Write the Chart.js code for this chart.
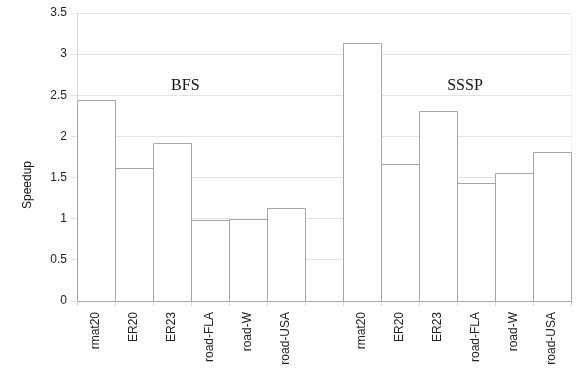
<!DOCTYPE html>
<html><head><meta charset="utf-8">
<script src="https://cdn.jsdelivr.net/npm/chart.js@4/dist/chart.umd.min.js"></script>
<style>html,body{margin:0;padding:0;background:#fff}</style>
</head><body>
<canvas id="c" width="581" height="370"></canvas>
<script>
const graphs = ['rmat20','ER20','ER23','road-FLA','road-W','road-USA'];
const groupNames = ['BFS','SSSP'];
const bfsSpeedup = [2.44, 1.62, 1.92, 0.99, 1.00, 1.13];
const ssspSpeedup = [3.13, 1.66, 2.31, 1.43, 1.56, 1.81];
const yAxisTitle = 'Speedup';
const yMin = 0, yMax = 3.5, yStep = 0.5;

// one empty slot separates the two groups
const labels = [...graphs, '', ...graphs];
const values = [...bfsSpeedup, null, ...ssspSpeedup];

const extras = {
  id: 'extras',
  afterDatasetsDraw(chart) {
    // crisp 1px outlines for the bar elements laid out by Chart.js
    const ctx = chart.ctx;
    const meta = chart.getDatasetMeta(0);
    ctx.save();
    ctx.strokeStyle = '#a6a6a6';
    ctx.lineWidth = 1;
    meta.data.forEach((el, i) => {
      if (values[i] === null || values[i] === undefined) return;
      const p = el.getProps(['x', 'y', 'width', 'base'], true);
      const l = Math.round(p.x - p.width / 2) + 0.5;
      const r = Math.round(p.x + p.width / 2) + 0.5;
      const t = Math.round(p.y) + 0.5;
      const b = Math.round(p.base);
      ctx.beginPath();
      ctx.moveTo(l, b);
      ctx.lineTo(l, t);
      ctx.lineTo(r, t);
      ctx.lineTo(r, b);
      ctx.stroke();
    });
    ctx.restore();
  },
  afterDraw(chart) {
    const ctx = chart.ctx, xs = chart.scales.x, ys = chart.scales.y, a = chart.chartArea;
    ctx.save();
    // faint right border above the last bar
    ctx.strokeStyle = '#efefef';
    ctx.lineWidth = 1;
    const lastEl = chart.getDatasetMeta(0).data[values.length - 1];
    ctx.beginPath();
    ctx.moveTo(Math.round(a.right) + 0.5, a.top);
    ctx.lineTo(Math.round(a.right) + 0.5, Math.round(lastEl.y) - 0.5);
    ctx.stroke();
    // group labels
    ctx.fillStyle = '#111';
    ctx.font = '16px "Liberation Serif", "DejaVu Serif", serif';
    ctx.textAlign = 'center';
    ctx.textBaseline = 'alphabetic';
    ctx.fillText(groupNames[0], xs.getPixelForValue(2.35), ys.getPixelForValue(2.565));
    ctx.fillText(groupNames[1], xs.getPixelForValue(9.71), ys.getPixelForValue(2.57));
    // y axis title, centred on the canvas height
    ctx.font = '12px "Liberation Sans", Arial, sans-serif';
    ctx.translate(28, chart.height / 2);
    ctx.rotate(-Math.PI / 2);
    ctx.textBaseline = 'middle';
    ctx.fillText(yAxisTitle, 0, 0);
    ctx.restore();
  }
};

new Chart(document.getElementById('c'), {
  type: 'bar',
  data: {
    labels: labels,
    datasets: [{
      data: values,
      backgroundColor: '#ffffff',
      borderWidth: 0,
      barPercentage: 1,
      categoryPercentage: 1
    }]
  },
  options: {
    responsive: false,
    devicePixelRatio: 1,
    animation: false,
    layout: { padding: { top: 13, right: 10, bottom: 0, left: 0 } },
    plugins: { legend: { display: false }, tooltip: { enabled: false } },
    scales: {
      x: {
        offset: true,
        grid: { offset: true, drawOnChartArea: false, drawTicks: true, tickLength: 5, color: '#d8d8d8' },
        border: { color: '#a8a8a8', width: 1 },
        ticks: {
          autoSkip: false, minRotation: 90, maxRotation: 90, padding: 6,
          color: '#222', font: { family: '"Liberation Sans", Arial, sans-serif', size: 12 }
        },
        afterFit(s) { s.height = 69; }
      },
      y: {
        min: yMin, max: yMax,
        grid: { color: '#e3e3e3', tickLength: 6 },
        border: { color: '#d8d8d8', width: 1 },
        ticks: {
          stepSize: yStep, padding: 4,
          color: '#222', font: { family: '"Liberation Sans", Arial, sans-serif', size: 12 },
          callback: (v) => String(v)
        },
        afterFit(s) { s.width = 77; }
      }
    }
  },
  plugins: [extras]
});
</script>
</body></html>
